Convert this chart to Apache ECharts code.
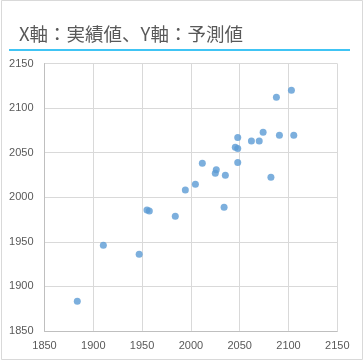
<!DOCTYPE html>
<html>
<head>
<meta charset="utf-8">
<script src="https://cdn.jsdelivr.net/npm/echarts@6/dist/echarts.min.js"></script>
<style>
html,body{margin:0;padding:0;background:#fff;}
#chart{width:364px;height:362px;}
</style>
</head>
<body>
<div id="chart"></div>
<script>
var titleText = 'X軸：実績値、Y軸：予測値';
var actualValues = [2103, 2087.6, 2074, 2048, 2090.7, 2105.4, 2062, 2070, 2045.5, 2048, 2011.7, 2048, 2026, 2025, 2035.3, 2082, 2004.6, 1994.3, 2034, 1955, 1957.4, 1984, 1910.3, 1947, 1883.6];
var predictedValues = [2120, 2112, 2073, 2067, 2069.6, 2069.6, 2063, 2063, 2056, 2054.6, 2038, 2039, 2030.7, 2027, 2024.7, 2022.5, 2014.6, 2008, 1988.8, 1985.5, 1984.5, 1978.7, 1946, 1936, 1883.3];
var axisMin = 1850, axisMax = 2150, axisStep = 50;

var pts = actualValues.map(function(x, i){ return [x, predictedValues[i]]; });

var chart = echarts.init(document.getElementById('chart'), null, {renderer:'canvas'});
var labelStyle = {color:'#595959', fontSize:11, fontFamily:'Liberation Sans, Arial, sans-serif', formatter:function(v){ return String(v); }};
chart.setOption({
  animation:false,
  backgroundColor:'#fff',
  title:{
    text:titleText,
    left:14, top:20,
    textStyle:{color:'#595959', fontSize:18.5, fontWeight:'normal', fontFamily:'Noto Sans CJK JP, sans-serif'}
  },
  graphic:[
    {type:'rect', shape:{x:1.5, y:0.5, width:361, height:359}, style:{fill:'none', stroke:'#D9D9D9', lineWidth:1}, silent:true},
    {type:'line', shape:{x1:9, y1:50, x2:350, y2:50}, style:{stroke:'#00B0F0', lineWidth:1.5}, silent:true}
  ],
  grid:{left:44.5, top:63.5, width:292.8, height:267.4, containLabel:false},
  xAxis:{
    type:'value', min:axisMin, max:axisMax, interval:axisStep,
    axisLine:{show:true, lineStyle:{color:'#BFBFBF'}},
    axisTick:{show:false},
    axisLabel:Object.assign({margin:10}, labelStyle),
    splitLine:{show:true, lineStyle:{color:'#D9D9D9'}}
  },
  yAxis:{
    type:'value', min:axisMin, max:axisMax, interval:axisStep,
    axisLine:{show:true, lineStyle:{color:'#BFBFBF'}},
    axisTick:{show:false},
    axisLabel:Object.assign({margin:11}, labelStyle),
    splitLine:{show:true, lineStyle:{color:'#D9D9D9'}}
  },
  series:[{
    type:'scatter',
    data:pts,
    symbol:'circle',
    symbolSize:7,
    itemStyle:{color:'#5B9BD5'}
  }]
});
</script>
</body>
</html>
